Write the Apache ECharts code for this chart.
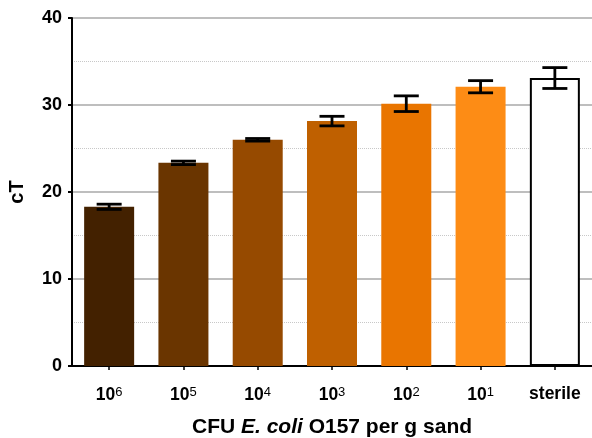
<!DOCTYPE html>
<html><head><meta charset="utf-8">
<script src="https://cdn.jsdelivr.net/npm/echarts@6/dist/echarts.min.js"></script>
<style>html,body{margin:0;padding:0;background:#fff}#c{width:592px;height:438px}</style>
</head><body><div id="c"></div>
<script>
const categories = ['10^6','10^5','10^4','10^3','10^2','10^1','sterile'];
const values = [18.3, 23.35, 26.0, 28.15, 30.15, 32.1, 33.1];
const errors = [0.3, 0.2, 0.15, 0.55, 0.9, 0.7, 1.2];
const colors = ['#432100','#6a3500','#964a00','#bf6000','#e97500','#fd8c15','#ffffff'];
const yTicks = [0, 10, 20, 30, 40];

const chart = echarts.init(document.getElementById('c'), null, {renderer:'canvas'});
const FONT = '"Liberation Sans", Arial, sans-serif';

chart.setOption({
  animation: false,
  grid: {left: 72, right: 0, top: 18, bottom: 72, containLabel: false, outerBoundsMode: 'none'},
  xAxis: {
    type: 'category',
    data: categories,
    axisLine: {lineStyle: {color: '#000', width: 2}},
    axisTick: {show: true, alignWithLabel: true, length: 4, lineStyle: {color: '#000', width: 1.5}},
    axisLabel: {
      margin: 20,
      formatter: function (v) {
        const m = v.match(/^10\^(\d+)$/);
        if (m) return '{b|10}{s|' + m[1] + '}';
        return '{b|' + v + '}';
      },
      rich: {
        b: {fontFamily: FONT, fontWeight: 'bold', fontSize: 17.5, color: '#000', height: 17},
        s: {fontFamily: FONT, fontSize: 13, color: '#000', padding: [0, 0, 6, 0]}
      }
    },
    name: '{n|CFU }{i|E. coli}{n| O157 per g sand}',
    nameLocation: 'middle',
    nameGap: 51,
    nameTextStyle: {
      rich: {
        n: {fontFamily: FONT, fontWeight: 'bold', fontSize: 21, color: '#000'},
        i: {fontFamily: FONT, fontWeight: 'bold', fontStyle: 'italic', fontSize: 21, color: '#000'}
      }
    }
  },
  yAxis: {
    type: 'value',
    min: yTicks[0], max: yTicks[yTicks.length - 1], interval: 10,
    axisLine: {show: true, lineStyle: {color: '#000', width: 2}},
    axisTick: {show: true, length: 4, lineStyle: {color: '#000', width: 2}},
    axisLabel: {fontFamily: FONT, fontWeight: 'bold', fontSize: 18, color: '#000', margin: 10},
    splitLine: {show: true, lineStyle: {color: '#a8a8a8', width: 1.5}},
    minorTick: {show: false, splitNumber: 2},
    minorSplitLine: {show: true, lineStyle: {color: '#c8c8c8', width: 1, type: [1, 1]}},
    name: 'cT',
    nameLocation: 'middle',
    nameGap: 45,
    nameRotate: 90,
    nameTextStyle: {fontFamily: FONT, fontWeight: 'bold', fontSize: 20, color: '#000'}
  },
  series: [
    {
      type: 'bar',
      barWidth: 50,
      data: values.map((v, i) => ({
        value: v,
        itemStyle: i === values.length - 1
          ? {color: colors[i], borderColor: '#000', borderWidth: 2}
          : {color: colors[i]}
      })),
      z: 2
    },
    {
      type: 'custom',
      z: 5,
      data: values.map((v, i) => [i, v - errors[i], v + errors[i]]),
      renderItem: function (params, api) {
        const x = api.value(0);
        const lo = api.coord([x, api.value(1)]);
        const hi = api.coord([x, api.value(2)]);
        const hw = 12.5;
        const style = {stroke: '#000', lineWidth: 2.8, fill: null};
        return {
          type: 'group',
          children: [
            {type: 'line', shape: {x1: lo[0], y1: lo[1], x2: hi[0], y2: hi[1]}, style: style},
            {type: 'line', shape: {x1: lo[0] - hw, y1: lo[1], x2: lo[0] + hw, y2: lo[1]}, style: style},
            {type: 'line', shape: {x1: hi[0] - hw, y1: hi[1], x2: hi[0] + hw, y2: hi[1]}, style: style}
          ]
        };
      }
    }
  ]
});
</script></body></html>
